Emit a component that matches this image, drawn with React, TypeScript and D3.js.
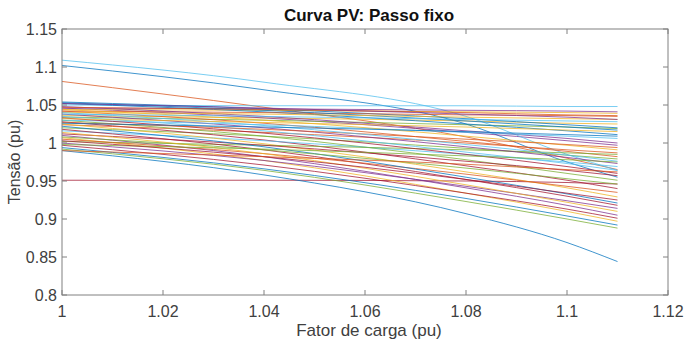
import React from "react";
import * as d3 from "d3";

const loadFactor = [1, 1.04, 1.08, 1.1, 1.11];

// Voltage (pu) of each bus at the load factors above
const busVoltages: number[][] = [
  [1.102, 1.070, 1.025, 0.975, 0.955],
  [1.081, 1.047, 1.008, 0.980, 0.965],
  [1.036, 1.033, 1.029, 1.026, 1.025],
  [1.046, 1.033, 1.014, 1.003, 0.997],
  [1.034, 1.030, 1.024, 1.021, 1.019],
  [1.109, 1.080, 1.035, 0.985, 0.964],
  [0.951, 0.951, 0.950, 0.948, 0.946],
  [0.990, 0.958, 0.907, 0.869, 0.844],
  [1.042, 1.026, 1.002, 0.989, 0.982],
  [1.044, 1.043, 1.041, 1.040, 1.039],
  [1.010, 0.982, 0.941, 0.918, 0.905],
  [1.020, 1.009, 0.993, 0.984, 0.979],
  [1.050, 1.049, 1.049, 1.048, 1.048],
  [1.028, 1.004, 0.970, 0.951, 0.940],
  [1.054, 1.045, 1.032, 1.024, 1.020],
  [1.024, 1.014, 1.000, 0.991, 0.987],
  [1.007, 0.977, 0.934, 0.910, 0.897],
  [1.046, 1.045, 1.043, 1.042, 1.041],
  [1.030, 1.009, 0.978, 0.960, 0.951],
  [1.016, 1.003, 0.985, 0.975, 0.969],
  [0.997, 0.971, 0.934, 0.913, 0.901],
  [1.052, 1.041, 1.025, 1.016, 1.011],
  [1.042, 1.040, 1.037, 1.036, 1.035],
  [1.025, 0.999, 0.962, 0.941, 0.929],
  [1.048, 1.035, 1.016, 1.006, 1.000],
  [1.002, 0.997, 0.991, 0.987, 0.985],
  [1.035, 1.016, 0.988, 0.973, 0.964],
  [1.018, 0.991, 0.952, 0.930, 0.918],
  [1.053, 1.043, 1.029, 1.021, 1.017],
  [1.005, 0.986, 0.959, 0.943, 0.935],
  [1.040, 1.038, 1.034, 1.032, 1.031],
  [1.038, 1.020, 0.995, 0.981, 0.973],
  [0.992, 0.964, 0.923, 0.900, 0.888],
  [1.030, 1.024, 1.014, 1.009, 1.006],
  [1.012, 0.997, 0.976, 0.964, 0.957],
  [1.022, 0.995, 0.955, 0.933, 0.921],
  [1.047, 1.044, 1.040, 1.037, 1.036],
  [1.044, 1.030, 1.009, 0.997, 0.991],
  [1.000, 0.977, 0.943, 0.924, 0.914],
  [1.008, 0.991, 0.967, 0.953, 0.946],
  [1.038, 1.035, 1.031, 1.029, 1.028],
  [1.033, 1.013, 0.985, 0.969, 0.960],
  [0.994, 0.966, 0.927, 0.904, 0.892],
  [1.027, 1.018, 1.005, 0.998, 0.994],
  [1.014, 0.986, 0.945, 0.922, 0.910],
  [1.052, 1.046, 1.038, 1.034, 1.031],
  [0.998, 0.992, 0.983, 0.978, 0.975],
  [1.040, 1.023, 0.998, 0.984, 0.976],
  [1.003, 0.982, 0.952, 0.934, 0.925],
  [1.026, 1.021, 1.015, 1.011, 1.009],
  [0.990, 0.982, 0.972, 0.965, 0.962],
  [1.032, 1.027, 1.021, 1.017, 1.015],
];

const xTicks = [1, 1.02, 1.04, 1.06, 1.08, 1.1, 1.12];
const yTicks = [0.8, 0.85, 0.9, 0.95, 1, 1.05, 1.1, 1.15];
const lineColors = ["#0072BD", "#D95319", "#EDB120", "#7E2F8E", "#77AC30", "#4DBEEE", "#A2142F"];

const titleText = "Curva PV: Passo fixo";
const xLabelText = "Fator de carga (pu)";
const yLabelText = "Tensão (pu)";

export default function App() {
  const W = 686;
  const H = 342;
  const left = 62, right = 668, top = 29, bottom = 295;
  const x = d3.scaleLinear().domain([1, 1.12]).range([left, right]);
  const y = d3.scaleLinear().domain([0.8, 1.15]).range([bottom, top]);
  const line = d3
    .line<number>()
    .x((_, i) => x(loadFactor[i]))
    .y((d) => y(d))
    .curve(d3.curveMonotoneX);
  const fmt = (v: number) => String(+v.toFixed(2));
  const font = "'Liberation Sans', Arial, Helvetica, sans-serif";
  const axisColor = "#808080";
  const textColor = "#404040";
  const tickLen = 5;

  return (
    <svg
      width={W}
      height={H}
      style={{ position: "absolute", left: 0, top: 0, background: "#fff" }}
      fontFamily={font}
    >
      <rect x={0} y={0} width={W} height={H} fill="#fff" />
      <g>
        {busVoltages.map((vals, i) => (
          <path
            key={i}
            d={line(vals) || ""}
            fill="none"
            stroke={lineColors[i % lineColors.length]}
            strokeWidth={0.75}
          />
        ))}
      </g>
      <rect
        x={left}
        y={top}
        width={right - left}
        height={bottom - top}
        fill="none"
        stroke={axisColor}
        strokeWidth={1}
      />
      {xTicks.map((t) => (
        <g key={"x" + t}>
          <line x1={x(t)} x2={x(t)} y1={bottom} y2={bottom - tickLen} stroke={axisColor} />
          <line x1={x(t)} x2={x(t)} y1={top} y2={top + tickLen} stroke={axisColor} />
          <text x={x(t)} y={317} textAnchor="middle" fontSize={16} fill={textColor}>
            {fmt(t)}
          </text>
        </g>
      ))}
      {yTicks.map((t) => (
        <g key={"y" + t}>
          <line x1={left} x2={left + tickLen} y1={y(t)} y2={y(t)} stroke={axisColor} />
          <line x1={right} x2={right - tickLen} y1={y(t)} y2={y(t)} stroke={axisColor} />
          <text x={57} y={y(t) + 6} textAnchor="end" fontSize={16} fill={textColor}>
            {fmt(t)}
          </text>
        </g>
      ))}
      <text x={(left + right) / 2 + 4} y={21} textAnchor="middle" fontSize={17} fontWeight="bold" fill="#111">
        {titleText}
      </text>
      <text x={(left + right) / 2 + 4} y={336} textAnchor="middle" fontSize={17} fill={textColor}>
        {xLabelText}
      </text>
      <text
        transform={`translate(20, ${(top + bottom) / 2}) rotate(-90)`}
        textAnchor="middle"
        fontSize={16}
        fill={textColor}
      >
        {yLabelText}
      </text>
    </svg>
  );
}
